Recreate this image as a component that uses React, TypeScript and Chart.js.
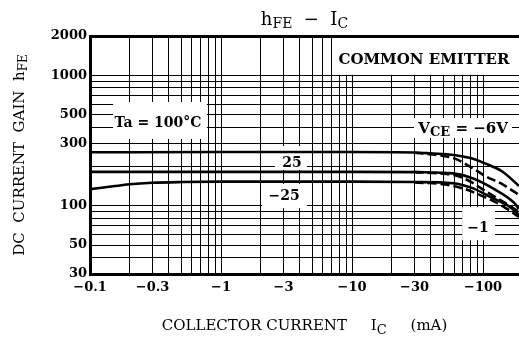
import React, { useEffect, useRef } from 'react';
import { Chart, registerables } from 'chart.js';

Chart.register(...registerables);

// ---- axis ticks / grid ----
const xGridValues = [
  0.1, 0.2, 0.3, 0.4, 0.5, 0.6, 0.7, 0.8, 0.9,
  1, 2, 3, 4, 5, 6, 7, 8, 9,
  10, 20, 30, 40, 50, 60, 70, 80, 90,
  100,
];
const xLabelValues = [0.1, 0.3, 1, 3, 10, 30, 100];
const xTickLabels = ['−0.1', '−0.3', '−1', '−3', '−10', '−30', '−100'];

const yGridValues = [30, 40, 50, 60, 70, 80, 90, 100, 200, 300, 400, 500, 600, 700, 800, 900, 1000, 2000];
const yLabelValues = [30, 50, 100, 300, 500, 1000, 2000];
const yTickLabels = ['30', '50', '100', '300', '500', '1000', '2000'];

const X_MIN = 0.1;
const X_MAX = 188;
const Y_MIN = 30;
const Y_MAX = 2000;

// ---- series (IC in mA, magnitude; hFE) ----
// VCE = -6V (solid)
const ta100V6_ic = [0.1, 1, 10, 30, 40, 60, 80, 100, 140, 188];
const ta100V6_hfe = [257, 258, 258, 256, 252, 245, 232, 214, 183, 142];

const ta25V6_ic = [0.1, 1, 10, 33, 59, 84, 119, 170, 188];
const ta25V6_hfe = [182, 182, 182, 181, 177, 162, 136, 107, 95];

const taM25V6_ic = [0.1, 0.15, 0.2, 0.3, 0.5, 1, 10, 30, 59, 84, 113, 160, 188];
const taM25V6_hfe = [134, 141, 146, 150, 152, 153, 153, 152, 149, 136, 117, 98, 85];

// VCE = -1V (dashed)
const ta100V1_ic = [30, 40, 60, 80, 106, 136, 188];
const ta100V1_hfe = [255, 248, 231, 199, 167, 149, 121];

const ta25V1_ic = [30, 50, 63, 85, 106, 150, 188];
const ta25V1_hfe = [181, 176, 170, 148, 128, 104, 90];

const taM25V1_ic = [30, 50, 70, 100, 140, 188];
const taM25V1_hfe = [151, 146, 136, 118, 100, 82];

const SERIF = "'DejaVu Serif', 'Liberation Serif', serif";

type Part = { t: string; sub?: boolean };

function drawRich(
  ctx: CanvasRenderingContext2D,
  parts: Part[],
  cx: number,
  baseline: number,
  size: number,
  subSize: number,
  weight: string,
  subDrop: number
) {
  const font = (s: number) => `${weight} ${s}px ${SERIF}`;
  let total = 0;
  const widths = parts.map((p) => {
    ctx.font = font(p.sub ? subSize : size);
    const w = ctx.measureText(p.t).width;
    total += w;
    return w;
  });
  let x = cx - total / 2;
  ctx.textAlign = 'left';
  ctx.textBaseline = 'alphabetic';
  ctx.fillStyle = '#000';
  parts.forEach((p, i) => {
    ctx.font = font(p.sub ? subSize : size);
    ctx.fillText(p.t, x, baseline + (p.sub ? subDrop : 0));
    x += widths[i];
  });
}

function labelFor(values: number[], labels: string[], v: number) {
  for (let i = 0; i < values.length; i++) {
    if (Math.abs(values[i] - v) / values[i] < 1e-6) return labels[i];
  }
  return '';
}

const overlayPlugin = {
  id: 'overlay',
  beforeDatasetsDraw(chart: any) {
    const ctx: CanvasRenderingContext2D = chart.ctx;
    const xs = chart.scales.x;
    const ys = chart.scales.y;
    const area = chart.chartArea;
    const px = (v: number) => xs.getPixelForValue(v);
    const py = (v: number) => ys.getPixelForValue(v);
    ctx.save();
    ctx.fillStyle = '#fff';
    // COMMON EMITTER box
    ctx.fillRect(px(7) + 1, area.top + 2, area.right - px(7) - 1, py(1000) - area.top - 2.5);
    // other boxes: [x0, x1, yTop, yBottom]
    const boxes = [
      [0.15, 0.78, 624, 325],
      [29.7, 166, 470, 330],
      [2.58, 4.53, 287, 188],
      [2.06, 4.53, 147, 96],
      [69.2, 123.5, 97.6, 54.5],
    ];
    boxes.forEach((b) => {
      const x0 = px(b[0]);
      const x1 = px(b[1]);
      const y0 = py(b[2]);
      const y1 = py(b[3]);
      ctx.fillRect(x0, y0, x1 - x0, y1 - y0);
    });

    drawRich(ctx, [{ t: 'COMMON EMITTER' }], px(35.4), py(1333) + 5, 15, 15, 'bold', 0);
    drawRich(ctx, [{ t: 'Ta = 100°C' }], px(0.33), py(440) + 5, 14, 14, 'bold', 0);
    drawRich(ctx, [{ t: 'V' }, { t: 'CE', sub: true }, { t: ' = −6V' }], px(70.4), py(394) + 5, 15, 13, 'bold', 3);
    drawRich(ctx, [{ t: '25' }], px(3.48), py(216) + 5, 14, 14, 'bold', 0);
    drawRich(ctx, [{ t: '−25' }], px(3.03), py(121) + 5, 14, 14, 'bold', 0);
    drawRich(ctx, [{ t: '−1' }], px(91.6), py(68.7) + 5, 14, 14, 'bold', 0);
    ctx.restore();
  },
  afterDraw(chart: any) {
    const ctx: CanvasRenderingContext2D = chart.ctx;
    const area = chart.chartArea;
    const cx = (area.left + area.right) / 2;
    ctx.save();
    // main title
    drawRich(ctx, [{ t: 'h' }, { t: 'FE', sub: true }, { t: '  −  ' }, { t: 'I' }, { t: 'C', sub: true }], cx, 25, 18, 14, 'normal', 3);
    // x-axis title
    drawRich(
      ctx,
      [{ t: 'COLLECTOR CURRENT     I' }, { t: 'C', sub: true }, { t: '     (mA)' }],
      cx,
      330,
      15,
      13,
      'normal',
      4
    );
    // y-axis title
    ctx.translate(24, (area.top + area.bottom) / 2);
    ctx.rotate(-Math.PI / 2);
    drawRich(ctx, [{ t: 'DC  CURRENT  GAIN  h' }, { t: 'FE', sub: true }], 0, 0, 15, 12, 'normal', 3);
    ctx.restore();
  },
};

function toPoints(xs: number[], ys: number[]) {
  return xs.map((x, i) => ({ x, y: ys[i] }));
}

export default function App() {
  const canvasRef = useRef<HTMLCanvasElement | null>(null);

  useEffect(() => {
    document.body.style.margin = '0';
    const canvas = canvasRef.current;
    if (!canvas) return;

    const solid = { borderColor: '#000', borderWidth: 2.6, pointRadius: 0, showLine: true, fill: false, cubicInterpolationMode: 'monotone' as const };
    const dashed = { ...solid, borderDash: [9, 4] };

    const chart = new Chart(canvas, {
      type: 'scatter',
      data: {
        datasets: [
          { ...solid, label: 'Ta=100°C, VCE=-6V', data: toPoints(ta100V6_ic, ta100V6_hfe) },
          { ...solid, label: 'Ta=25°C, VCE=-6V', data: toPoints(ta25V6_ic, ta25V6_hfe) },
          { ...solid, label: 'Ta=-25°C, VCE=-6V', data: toPoints(taM25V6_ic, taM25V6_hfe) },
          { ...dashed, label: 'Ta=100°C, VCE=-1V', data: toPoints(ta100V1_ic, ta100V1_hfe) },
          { ...dashed, label: 'Ta=25°C, VCE=-1V', data: toPoints(ta25V1_ic, ta25V1_hfe) },
          { ...dashed, label: 'Ta=-25°C, VCE=-1V', data: toPoints(taM25V1_ic, taM25V1_hfe) },
        ],
      },
      options: {
        responsive: false,
        animation: false,
        devicePixelRatio: 1,
        layout: { padding: { top: 36, left: 0, right: 0, bottom: 0 } },
        plugins: { legend: { display: false }, title: { display: false }, tooltip: { enabled: false } },
        scales: {
          x: {
            type: 'logarithmic',
            min: X_MIN,
            max: X_MAX,
            afterBuildTicks: (scale: any) => {
              scale.ticks = xGridValues.map((v) => ({ value: v }));
            },
            afterFit: (scale: any) => {
              scale.height = 63;
            },
            ticks: {
              autoSkip: false,
              maxRotation: 0,
              padding: 6,
              color: '#000',
              font: { family: SERIF, size: 13, weight: 'bold' },
              callback: (v: any) => labelFor(xLabelValues, xTickLabels, Number(v)),
            },
            grid: { color: '#000', lineWidth: 1, drawTicks: false },
            border: { display: true, color: '#000', width: 3 },
          },
          y: {
            type: 'logarithmic',
            min: Y_MIN,
            max: Y_MAX,
            afterBuildTicks: (scale: any) => {
              scale.ticks = yGridValues.map((v) => ({ value: v }));
            },
            afterFit: (scale: any) => {
              scale.width = 90;
            },
            ticks: {
              autoSkip: false,
              padding: 3,
              color: '#000',
              font: { family: SERIF, size: 13, weight: 'bold' },
              callback: (v: any) => labelFor(yLabelValues, yTickLabels, Number(v)),
            },
            grid: {
              color: '#000',
              lineWidth: (c: any) => (c.tick && c.tick.value === Y_MAX ? 3 : 1),
              drawTicks: false,
            },
            border: { display: true, color: '#000', width: 3 },
          },
        },
      },
      plugins: [overlayPlugin],
    } as any);

    return () => chart.destroy();
  }, []);

  return (
    <div style={{ width: 519, height: 337 }}>
      <canvas ref={canvasRef} width={519} height={337} style={{ display: 'block' }} />
    </div>
  );
}
